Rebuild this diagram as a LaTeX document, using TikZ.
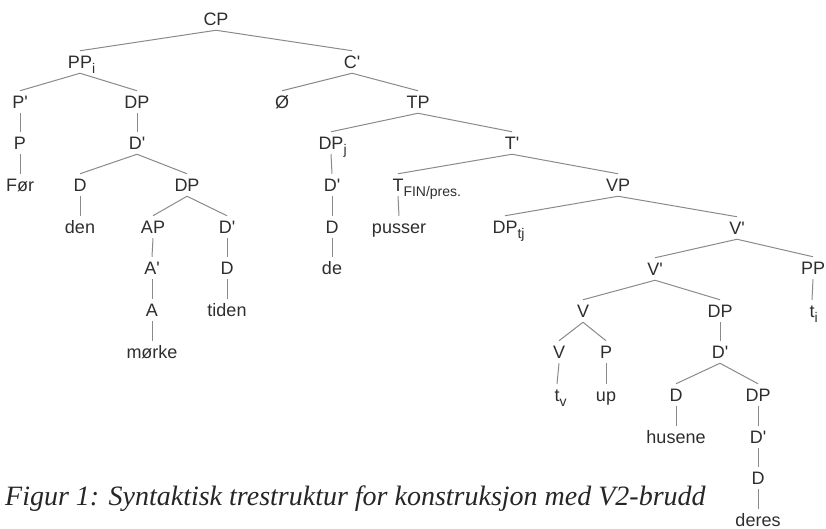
\documentclass[tikz,border=0pt]{standalone}
\usepackage{fontspec}
\setmainfont{Liberation Sans}[Ligatures=TeXOff]
\newfontfamily\capfont{Liberation Serif}
\definecolor{txt}{HTML}{2E2E2E}
\definecolor{ln}{HTML}{8A8A8A}
\newcommand\sbs[1]{\rlap{\raisebox{-5pt}{\fontsize{14}{14}\selectfont #1}}}
\newcommand\pr{'}
\begin{document}
\begin{tikzpicture}[x=1pt,y=-1pt,
  lab/.style={inner xsep=0pt, inner ysep=4.6pt, text height=12.9pt, text depth=0pt,
    font=\fontsize{18}{18}\selectfont, text=txt},
  edge/.style={draw=ln, line width=1pt}]
\useasboundingbox (0,0) rectangle (826,529);
\node[lab] (cp)   at (216,19)  {CP};
\node[lab] (ppi)  at (80,62)   {PP\sbs{i}};
\node[lab] (cb)   at (352,62)  {C\pr};
\node[lab] (pb)   at (20,102)  {P\pr};
\node[lab] (dp1)  at (137,102) {DP};
\node[lab] (null) at (282,102) {Ø};
\node[lab] (tp)   at (418,102) {TP};
\node[lab] (p1)   at (20,143)  {P};
\node[lab] (db1)  at (137,143) {D\pr};
\node[lab] (dpj)  at (331,143) {DP\sbs{j}};
\node[lab] (tb)   at (512,143) {T\pr};
\node[lab] (for)  at (20,185)  {Før};
\node[lab] (d1)   at (80,185)  {D};
\node[lab] (dp2)  at (187,185) {DP};
\node[lab] (db2)  at (332,185) {D\pr};
\node[lab] (t)    at (398,185) {T\sbs{FIN/pres.}};
\node[lab] (vp)   at (618,185) {VP};
\node[lab] (den)  at (80,227)  {den};
\node[lab] (ap)   at (153,227) {AP};
\node[lab] (db3)  at (227,227) {D\pr};
\node[lab] (d2)   at (332,227) {D};
\node[lab] (pus)  at (399,227) {pusser};
\node[lab] (dptj) at (505,227) {DP\sbs{tj}};
\node[lab] (vb1)  at (737,228) {V\pr};
\node[lab] (ab)   at (152,268) {A\pr};
\node[lab] (d3)   at (227,268) {D};
\node[lab] (de)   at (332,268) {de};
\node[lab] (vb2)  at (655,269) {V\pr};
\node[lab] (pp)   at (813,268) {PP};
\node[lab] (a)    at (152,310) {A};
\node[lab] (tid)  at (227,310) {tiden};
\node[lab] (v1)   at (583,311) {V};
\node[lab] (dp3)  at (720,311) {DP};
\node[lab] (ti)   at (812,311) {t\sbs{i}};
\node[lab] (mor)  at (152,352) {mørke};
\node[lab] (v2)   at (559,352) {V};
\node[lab] (p2)   at (606,352) {P};
\node[lab] (db4)  at (720,352) {D\pr};
\node[lab] (tv)   at (557,395) {t\sbs{v}};
\node[lab] (up)   at (606,395) {up};
\node[lab] (d4)   at (676,395) {D};
\node[lab] (dp4)  at (758,395) {DP};
\node[lab] (hus)  at (676,437) {husene};
\node[lab] (db5)  at (758,437) {D\pr};
\node[lab] (d5)   at (758,478) {D};
\node[lab] (der)  at (758,520) {deres};
\foreach \a/\b in {cp/ppi,cp/cb,ppi/pb,ppi/dp1,pb/p1,p1/for,dp1/db1,db1/d1,db1/dp2,
  d1/den,dp2/ap,dp2/db3,ap/ab,ab/a,a/mor,db3/d3,d3/tid,cb/null,cb/tp,tp/dpj,tp/tb,
  dpj/db2,db2/d2,d2/de,tb/t,tb/vp,t/pus,vp/dptj,vp/vb1,vb1/vb2,vb1/pp,pp/ti,
  vb2/v1,vb2/dp3,v1/v2,v1/p2,v2/tv,p2/up,dp3/db4,db4/d4,db4/dp4,d4/hus,
  dp4/db5,db5/d5,d5/der}
  \draw[edge] (\a.south) -- (\b.north);
\node[anchor=base west, inner sep=0pt, text=black!85,
  font=\capfont\itshape\fontsize{28}{28}\selectfont] (cap) at (5,505)
  {Figur 1: Syntaktisk trestruktur for konstruksjon med V2-brudd};
\end{tikzpicture}
\end{document}
